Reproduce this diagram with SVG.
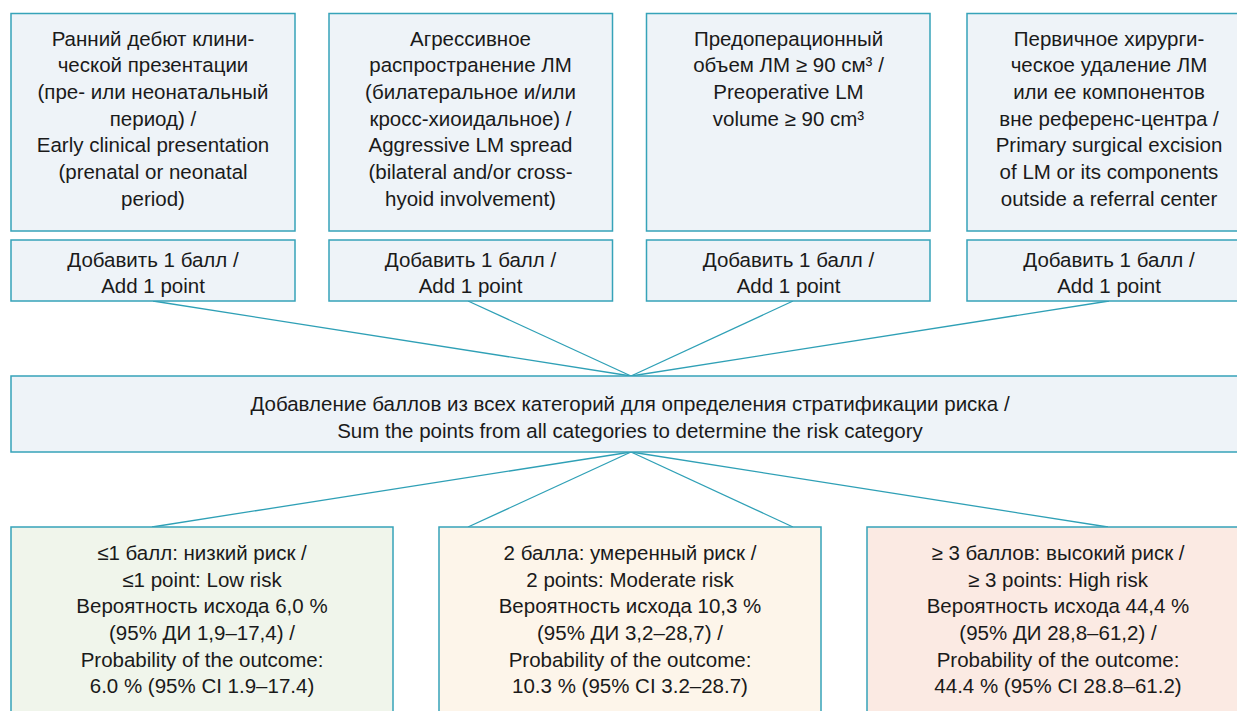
<svg xmlns="http://www.w3.org/2000/svg" width="1237" height="711" viewBox="0 0 1237 711">
<style>
.box{fill:#EEF3F8;stroke:#36A3B9;stroke-width:1.5}
.g{fill:#F0F5EB}
.y{fill:#FDF5EA}
.r{fill:#FBEAE3}
text{font-family:"Liberation Sans","Noto Sans",sans-serif;font-size:20.5px;fill:#1a1a1a;text-anchor:middle}
.c line{stroke:#2FA0B6;stroke-width:1.3}
</style>
<rect width="1237" height="711" fill="#ffffff"/>
<g class="c" id="connectors">
<line x1="153" y1="301" x2="631" y2="376"/>
<line x1="468" y1="301" x2="631" y2="376"/>
<line x1="793" y1="301" x2="631" y2="376"/>
<line x1="1109" y1="301" x2="631" y2="376"/>
<line x1="631" y1="452" x2="152" y2="527"/>
<line x1="631" y1="452" x2="468" y2="527"/>
<line x1="631" y1="452" x2="793" y2="527"/>
<line x1="631" y1="452" x2="1108" y2="527"/>
</g>
<g id="f1">
<rect class="box" x="11" y="13.5" width="284" height="217.5"/>
<text><tspan x="153" y="45.5">Ранний дебют клини-</tspan><tspan x="153" y="72.2">ческой презентации</tspan><tspan x="153" y="98.9">(пре- или неонатальный</tspan><tspan x="153" y="125.6">период) /</tspan><tspan x="153" y="152.3">Early clinical presentation</tspan><tspan x="153" y="179">(prenatal or neonatal</tspan><tspan x="153" y="205.7">period)</tspan></text>
</g>
<g id="f2">
<rect class="box" x="329" y="13.5" width="283.5" height="217.5"/>
<text><tspan x="470.5" y="45.5">Агрессивное</tspan><tspan x="470.5" y="72.2">распространение ЛМ</tspan><tspan x="470.5" y="98.9">(билатеральное и/или</tspan><tspan x="470.5" y="125.6">кросс-хиоидальное) /</tspan><tspan x="470.5" y="152.3">Aggressive LM spread</tspan><tspan x="470.5" y="179">(bilateral and/or cross-</tspan><tspan x="470.5" y="205.7">hyoid involvement)</tspan></text>
</g>
<g id="f3">
<rect class="box" x="646.5" y="13.5" width="283.5" height="217.5"/>
<text><tspan x="788.5" y="45.5">Предоперационный</tspan><tspan x="788.5" y="72.2">объем ЛМ ≥ 90 см³ /</tspan><tspan x="788.5" y="98.9">Preoperative LM</tspan><tspan x="788.5" y="125.6">volume ≥ 90 cm³</tspan></text>
</g>
<g id="f4">
<rect class="box" x="967" y="13.5" width="284" height="217.5"/>
<text><tspan x="1109" y="45.5">Первичное хирурги-</tspan><tspan x="1109" y="72.2">ческое удаление ЛМ</tspan><tspan x="1109" y="98.9">или ее компонентов</tspan><tspan x="1109" y="125.6">вне референс-центра /</tspan><tspan x="1109" y="152.3">Primary surgical excision</tspan><tspan x="1109" y="179">of LM or its components</tspan><tspan x="1109" y="205.7">outside a referral center</tspan></text>
</g>
<g id="p1">
<rect class="box" x="11" y="240" width="284" height="61"/>
<text><tspan x="153" y="266.5">Добавить 1 балл /</tspan><tspan x="153" y="293">Add 1 point</tspan></text>
</g>
<g id="p2">
<rect class="box" x="329" y="240" width="283.5" height="61"/>
<text><tspan x="470.5" y="266.5">Добавить 1 балл /</tspan><tspan x="470.5" y="293">Add 1 point</tspan></text>
</g>
<g id="p3">
<rect class="box" x="646.5" y="240" width="283.5" height="61"/>
<text><tspan x="788.5" y="266.5">Добавить 1 балл /</tspan><tspan x="788.5" y="293">Add 1 point</tspan></text>
</g>
<g id="p4">
<rect class="box" x="967" y="240" width="284" height="61"/>
<text><tspan x="1109" y="266.5">Добавить 1 балл /</tspan><tspan x="1109" y="293">Add 1 point</tspan></text>
</g>
<g id="sum">
<rect class="box" x="11" y="376" width="1240" height="76"/>
<text><tspan x="630" y="411">Добавление баллов из всех категорий для определения стратификации риска /</tspan><tspan x="630" y="437.5">Sum the points from all categories to determine the risk category</tspan></text>
</g>
<g id="low">
<rect class="box g" x="11" y="527" width="382" height="200"/>
<text><tspan x="202" y="560">≤1 балл: низкий риск /</tspan><tspan x="202" y="586.7">≤1 point: Low risk</tspan><tspan x="202" y="613.3">Вероятность исхода 6,0 %</tspan><tspan x="202" y="640">(95% ДИ 1,9–17,4) /</tspan><tspan x="202" y="666.7">Probability of the outcome:</tspan><tspan x="202" y="693.3">6.0 % (95% CI 1.9–17.4)</tspan></text>
</g>
<g id="moderate">
<rect class="box y" x="439" y="527" width="382" height="200"/>
<text><tspan x="630" y="560">2 балла: умеренный риск /</tspan><tspan x="630" y="586.7">2 points: Moderate risk</tspan><tspan x="630" y="613.3">Вероятность исхода 10,3 %</tspan><tspan x="630" y="640">(95% ДИ 3,2–28,7) /</tspan><tspan x="630" y="666.7">Probability of the outcome:</tspan><tspan x="630" y="693.3">10.3 % (95% CI 3.2–28.7)</tspan></text>
</g>
<g id="high">
<rect class="box r" x="867" y="527" width="382" height="200"/>
<text><tspan x="1058" y="560">≥ 3 баллов: высокий риск /</tspan><tspan x="1058" y="586.7">≥ 3 points: High risk</tspan><tspan x="1058" y="613.3">Вероятность исхода 44,4 %</tspan><tspan x="1058" y="640">(95% ДИ 28,8–61,2) /</tspan><tspan x="1058" y="666.7">Probability of the outcome:</tspan><tspan x="1058" y="693.3">44.4 % (95% CI 28.8–61.2)</tspan></text>
</g>
</svg>
